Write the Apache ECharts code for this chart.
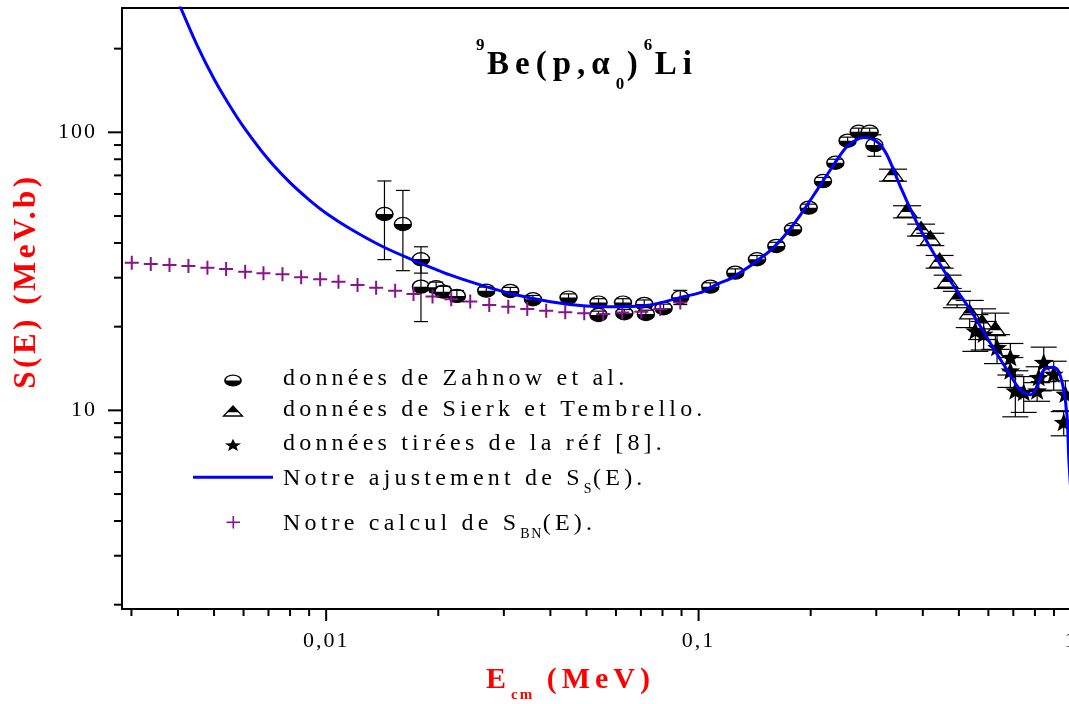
<!DOCTYPE html>
<html>
<head>
<meta charset="utf-8">
<script src="https://cdn.jsdelivr.net/npm/echarts@6/dist/echarts.min.js"></script>
<style>
  html, body { margin: 0; padding: 0; background: #fff; }
  #chart { width: 1069px; height: 704px; }
</style>
</head>
<body>
<div id="chart"></div>
<script>
// ---- data -----------------------------------------------------------------
// Zahnow et al. (E in MeV, S in MeV.b, symmetric error)
const E_ZAHNOW = [0.01434, 0.01607, 0.01797, 0.01797, 0.01974, 0.02065, 0.02244, 0.02691, 0.03121, 0.03591,
                  0.04475, 0.05387, 0.05387, 0.06266, 0.06317, 0.07146, 0.07222, 0.08054, 0.0893, 0.1075,
                  0.1255, 0.1435, 0.1617, 0.1793, 0.1975, 0.2158, 0.2329, 0.2513, 0.2691, 0.288, 0.2965];
const S_ZAHNOW = [50.85, 46.8, 34.96, 27.86, 27.72, 26.73, 25.8, 26.95, 26.88, 25.1,
                  25.44, 24.41, 22.04, 24.41, 22.35, 24.15, 22.22, 23.3, 25.52, 27.86,
                  31.28, 34.96, 39.02, 44.8, 53.58, 66.8, 77.74, 93.3, 100.5, 100.5, 90.0];
const ERR_ZAHNOW = [16, 15, 3.8, 7, 1.2, 1.2, 1.2, 0.8, 0.8, 0.8,
                    0.8, 0.8, 0.7, 0.8, 0.7, 0.8, 0.7, 0.8, 1.5, 0.9,
                    1.0, 1.1, 1.2, 1.4, 1.6, 2.0, 2.3, 2.8, 3.0, 3.0, 8];

// Sierk et Tembrello
const E_SIERK = [0.3327, 0.3629, 0.3958, 0.4191, 0.4439, 0.4665, 0.4943, 0.5345, 0.5771, 0.6264];
const S_SIERK = [70.2, 51.84, 44.55, 41.24, 34.27, 29.04, 25.1, 22.35, 20.58, 19.47];
const ERR_SIERK = [3.5, 2.6, 2.2, 2.1, 1.8, 1.6, 1.7, 2.5, 2.6, 2.9];

// réf [8]
const E_REF8 = [0.5536, 0.5827, 0.6331, 0.6874, 0.6874, 0.7088, 0.7464, 0.811, 0.819, 0.8448, 0.8985, 0.9661, 0.9559];
const S_REF8 = [19.2, 18.68, 16.73, 15.4, 13.79, 11.68, 11.53, 11.68, 13.05, 14.78, 13.42, 11.37, 9.0];
const ERR_REF8 = [2.9, 2.2, 2.0, 2.0, 1.7, 2.2, 1.7, 0.9, 1.3, 2.1, 1.6, 1.4, 0.9];

// fitted S_S(E)
const E_FIT = [0.004, 0.0045, 0.005, 0.0055, 0.006, 0.007, 0.008, 0.009, 0.01, 0.0116,
               0.0143, 0.0175, 0.0215, 0.027, 0.0325, 0.04, 0.049, 0.0604, 0.0742, 0.0911,
               0.1011, 0.112, 0.1242, 0.1527, 0.1692, 0.1876, 0.208, 0.2305, 0.2504, 0.2775,
               0.3014, 0.3206, 0.3482, 0.3861, 0.4278, 0.4743, 0.5368, 0.6075, 0.6735, 0.7313,
               0.7781, 0.8108, 0.8448, 0.8985, 0.9268, 0.9559, 0.9761, 0.9858, 1.0];
const S_FIT = [296, 206, 155.6, 125.2, 104.7, 79.8, 65.9, 57.2, 51.2, 45.0,
               38.6, 34.3, 30.7, 27.8, 26.0, 24.6, 23.8, 23.6, 23.94, 25.65,
               26.5, 28.4, 30.2, 36.74, 42.14, 50.42, 62.0, 76.3, 88.8, 95.9,
               92.5, 82.9, 63.8, 47.1, 36.7, 29.2, 22.97, 17.44, 13.98, 11.85,
               11.37, 12.18, 13.98, 14.3, 13.79, 11.85, 9.5, 6.82, 5.0];

// calculated S_BN(E)
const E_BN = [0.003006, 0.003381, 0.003796, 0.004267, 0.004799, 0.005387, 0.006061, 0.006786, 0.007633, 0.008566,
              0.009636, 0.01079, 0.01214, 0.01362, 0.01532, 0.01716, 0.0193, 0.02167, 0.02437, 0.02741,
              0.03083, 0.03467, 0.03898, 0.04385, 0.04932, 0.05546, 0.06237, 0.07017, 0.07891, 0.0893];
const S_BN = [33.99, 33.62, 33.34, 33.06, 32.6, 32.25, 31.54, 31.13, 30.87, 30.11,
              29.62, 29.04, 28.25, 27.63, 26.95, 26.23, 25.65, 25.1, 24.61, 23.94,
              23.61, 23.16, 22.84, 22.54, 22.36, 22.23, 22.47, 22.65, 23.16, 24.41];

// axes
const X_MIN = 0.00283, X_MAX = 1;
const Y_MIN = 1.93, Y_MAX = 280;
const X_MAJOR = [0.01, 0.1, 1];
const X_LABELS = ['0,01', '0,1', '1'];
const X_MINOR = [0.003, 0.004, 0.005, 0.006, 0.007, 0.008, 0.009,
                 0.02, 0.03, 0.04, 0.05, 0.06, 0.07, 0.08, 0.09,
                 0.2, 0.3, 0.4, 0.5, 0.6, 0.7, 0.8, 0.9];
const Y_MAJOR = [10, 100];
const Y_LABELS = ['10', '100'];
const Y_MINOR = [2, 3, 4, 5, 6, 7, 8, 9, 20, 30, 40, 50, 60, 70, 80, 90, 200];

// ---- text tracking (letter spacing per font size, px) ---------------------
const TRACKING = { 14: 1.5, 15: 2, 17: 2.5, 22: 2, 24: 4.2, 30: 5, 31: 3.5, 33: 6 };
(function () {
  const proto = CanvasRenderingContext2D.prototype;
  if (!('letterSpacing' in proto)) return;
  ['fillText', 'strokeText', 'measureText'].forEach(function (fn) {
    const orig = proto[fn];
    proto[fn] = function () {
      const m = /(\d+(?:\.\d+)?)px/.exec(this.font);
      const size = m ? Math.round(parseFloat(m[1])) : 12;
      const t = TRACKING[size];
      this.letterSpacing = (t != null ? t : 0) + 'px';
      return orig.apply(this, arguments);
    };
  });
})();

const FONT = "'Liberation Serif', 'Times New Roman', serif";
const PURPLE = '#86148a';
const BLUE = '#0000ff';

// ---- marker shapes ---------------------------------------------------------
function halfDisc(x, y, rx, ry) {
  return {
    type: 'group', x: x, y: y, scaleX: rx / ry,
    children: [
      { type: 'circle', shape: { cx: 0, cy: 0, r: ry }, style: { fill: '#fff', stroke: '#000', lineWidth: 1.2 } },
      { type: 'sector', shape: { cx: 0, cy: 0, r0: 0, r: ry, startAngle: 0, endAngle: Math.PI, clockwise: true }, style: { fill: '#000' } }
    ]
  };
}
function halfTriangle(x, y, w, h) {
  const top = -h * 0.6, bot = h * 0.4, split = top + h * 0.62;
  const hw = (w / 2) * (split - top) / (bot - top);
  return {
    type: 'group', x: x, y: y,
    children: [
      { type: 'polygon', shape: { points: [[0, top], [w / 2, bot], [-w / 2, bot]] }, style: { fill: '#fff', stroke: '#000', lineWidth: 1.3 } },
      { type: 'polygon', shape: { points: [[0, top], [hw, split], [-hw, split]] }, style: { fill: '#000' } }
    ]
  };
}
function star(x, y, rOut, sy) {
  const pts = [];
  for (let i = 0; i < 10; i++) {
    const a = -Math.PI / 2 + i * Math.PI / 5;
    const r = i % 2 ? rOut * 0.42 : rOut;
    pts.push([r * Math.cos(a), r * Math.sin(a)]);
  }
  return { type: 'polygon', x: x, y: y, scaleY: sy, shape: { points: pts }, style: { fill: '#000' } };
}
function errorBar(api, x, y, e, capW) {
  const c = api.coord([x, y + e]);
  const d = api.coord([x, y - e]);
  const st = { stroke: '#000', lineWidth: 1.2 };
  return [
    { type: 'line', shape: { x1: c[0], y1: c[1], x2: d[0], y2: d[1] }, style: st },
    { type: 'line', shape: { x1: c[0] - capW / 2, y1: c[1], x2: c[0] + capW / 2, y2: c[1] }, style: st },
    { type: 'line', shape: { x1: d[0] - capW / 2, y1: d[1], x2: d[0] + capW / 2, y2: d[1] }, style: st }
  ];
}

function zip3(a, b, c) { return a.map((v, i) => [v, b[i], c[i]]); }

const chart = echarts.init(document.getElementById('chart'));

function majorLabel(list, labels) {
  return function (v) {
    for (let i = 0; i < list.length; i++) {
      if (Math.abs(v / list[i] - 1) < 1e-6) return labels[i];
    }
    return '';
  };
}

const legendText = { fontSize: 24, fontFamily: FONT, fill: '#000', verticalAlign: 'middle' };

const option = {
  animation: false,
  backgroundColor: '#fff',
  grid: {
    left: 122, top: 8, right: -2, bottom: 95,
    show: true, borderColor: '#000', borderWidth: 2,
    outerBoundsMode: 'none', containLabel: false
  },
  xAxis: {
    type: 'log', logBase: 10, min: X_MIN, max: X_MAX,
    axisLine: { lineStyle: { color: '#000', width: 2 } },
    axisTick: { show: false },
    splitLine: { show: false },
    axisLabel: {
      formatter: majorLabel(X_MAJOR, X_LABELS),
      fontFamily: FONT, fontSize: 22, color: '#000', margin: 20,
      showMinLabel: false, showMaxLabel: true, hideOverlap: false
    }
  },
  yAxis: {
    type: 'log', logBase: 10, min: Y_MIN, max: Y_MAX,
    axisLine: { lineStyle: { color: '#000', width: 2 } },
    axisTick: { show: false },
    splitLine: { show: false },
    axisLabel: {
      formatter: majorLabel(Y_MAJOR, Y_LABELS),
      fontFamily: FONT, fontSize: 22, color: '#000', margin: 25,
      showMinLabel: false, showMaxLabel: false
    }
  },
  series: [
    {
      name: 'données de Zahnow et al.',
      type: 'custom',
      data: zip3(E_ZAHNOW, S_ZAHNOW, ERR_ZAHNOW),
      encode: { x: 0, y: 1 },
      renderItem: function (params, api) {
        const x = api.value(0), y = api.value(1), e = api.value(2);
        const p = api.coord([x, y]);
        return { type: 'group', children: [halfDisc(p[0], p[1], 8.5, 6.6)].concat(errorBar(api, x, y, e, 14)) };
      }
    },
    {
      name: 'données de Sierk et Tembrello.',
      type: 'custom',
      data: zip3(E_SIERK, S_SIERK, ERR_SIERK),
      encode: { x: 0, y: 1 },
      renderItem: function (params, api) {
        const x = api.value(0), y = api.value(1), e = api.value(2);
        const p = api.coord([x, y]);
        return { type: 'group', children: errorBar(api, x, y, e, 28).concat([halfTriangle(p[0], p[1], 20, 14)]) };
      }
    },
    {
      name: 'données tirées de la réf [8].',
      type: 'custom',
      data: zip3(E_REF8, S_REF8, ERR_REF8),
      encode: { x: 0, y: 1 },
      renderItem: function (params, api) {
        const x = api.value(0), y = api.value(1), e = api.value(2);
        const p = api.coord([x, y]);
        return { type: 'group', children: errorBar(api, x, y, e, 26).concat([star(p[0], p[1], 10.5, 0.95)]) };
      }
    },
    {
      name: 'Notre calcul de S_BN(E).',
      type: 'scatter',
      data: E_BN.map((v, i) => [v, S_BN[i]]),
      symbol: 'path://M0,7L14,7M7,0L7,14',
      symbolSize: 14,
      itemStyle: { color: 'transparent', borderColor: PURPLE, borderWidth: 2, opacity: 1 }
    },
    {
      name: 'Notre ajustement de S_S(E).',
      type: 'line',
      data: E_FIT.map((v, i) => [v, S_FIT[i]]),
      showSymbol: false,
      smooth: 0.3,
      clip: true,
      lineStyle: { color: BLUE, width: 3 }
    },
    {
      name: 'xTicks',
      type: 'custom',
      silent: true,
      clip: false,
      data: X_MAJOR.map(v => [v, 10, 1]).concat(X_MINOR.map(v => [v, 10, 0])),
      encode: { x: 0, y: 1 },
      renderItem: function (params, api) {
        const px = api.coord([api.value(0), 10])[0];
        const base = params.coordSys.y + params.coordSys.height;
        const len = api.value(2) ? 12 : 7;
        return { type: 'line', shape: { x1: px, y1: base, x2: px, y2: base + len }, style: { stroke: '#000', lineWidth: 2 } };
      }
    },
    {
      name: 'yTicks',
      type: 'custom',
      silent: true,
      clip: false,
      data: Y_MAJOR.map(v => [0.01, v, 1]).concat(Y_MINOR.map(v => [0.01, v, 0])),
      encode: { x: 0, y: 1 },
      renderItem: function (params, api) {
        const py = api.coord([0.01, api.value(1)])[1];
        const base = params.coordSys.x;
        const len = api.value(2) ? 14 : 8;
        return { type: 'line', shape: { x1: base, y1: py, x2: base - len, y2: py }, style: { stroke: '#000', lineWidth: 2 } };
      }
    }
  ],
  graphic: [
    // title
    {
      type: 'text', x: 476, y: 65, silent: true,
      style: {
        text: '{sup|9}{m|Be(p,α}{sub|0}{m|)}{sup|6}{m|Li}',
        verticalAlign: 'middle', align: 'left',
        rich: {
          m: { fontSize: 33, fontWeight: 'bold', fontFamily: FONT, fill: '#000', lineHeight: 59 },
          sup: { fontSize: 17, fontWeight: 'bold', fontFamily: FONT, fill: '#000', lineHeight: 31, verticalAlign: 'top' },
          sub: { fontSize: 17, fontWeight: 'bold', fontFamily: FONT, fill: '#000', lineHeight: 17, verticalAlign: 'bottom' }
        }
      }
    },
    // y axis title
    {
      type: 'text', x: 26.5, y: 281, rotation: Math.PI / 2, silent: true,
      style: {
        text: 'S(E) (MeV.b)', fontSize: 31, fontWeight: 'bold', fontFamily: FONT,
        fill: '#ff0000', align: 'center', verticalAlign: 'middle'
      }
    },
    // x axis title
    {
      type: 'text', x: 486, y: 680, silent: true,
      style: {
        text: '{m|E}{sub|cm}{m| (MeV)}',
        align: 'left', verticalAlign: 'middle',
        rich: {
          m: { fontSize: 30, fontWeight: 'bold', fontFamily: FONT, fill: '#ff0000', lineHeight: 47 },
          sub: { fontSize: 15, fontWeight: 'bold', fontFamily: FONT, fill: '#ff0000', lineHeight: 15, verticalAlign: 'bottom' }
        }
      }
    },
    // legend
    halfDisc(233, 380.5, 8, 5.4),
    halfTriangle(233, 412, 19, 10),
    star(233, 445.5, 8.5, 0.8),
    { type: 'line', shape: { x1: 193, y1: 477.3, x2: 273, y2: 477.3 }, style: { stroke: BLUE, lineWidth: 3 } },
    { type: 'line', shape: { x1: 226.5, y1: 522.3, x2: 240, y2: 522.3 }, style: { stroke: PURPLE, lineWidth: 1.6 } },
    { type: 'line', shape: { x1: 233.3, y1: 516, x2: 233.3, y2: 528.5 }, style: { stroke: PURPLE, lineWidth: 1.6 } },
    { type: 'text', x: 283, y: 378.5, style: Object.assign({ text: 'données de Zahnow et al.' }, legendText) },
    { type: 'text', x: 283, y: 409.5, style: Object.assign({ text: 'données de Sierk et Tembrello.' }, legendText) },
    { type: 'text', x: 283, y: 444.2, style: Object.assign({ text: 'données tirées de la réf [8].' }, legendText) },
    {
      type: 'text', x: 283, y: 478.5,
      style: {
        text: '{m|Notre ajustement de S}{sub|S}{m|(E).}', verticalAlign: 'middle',
        rich: {
          m: { fontSize: 24, fontFamily: FONT, fill: '#000', lineHeight: 38 },
          sub: { fontSize: 14, fontFamily: FONT, fill: '#000', lineHeight: 14, verticalAlign: 'bottom' }
        }
      }
    },
    {
      type: 'text', x: 283, y: 524.2,
      style: {
        text: '{m|Notre calcul de S}{sub|BN}{m|(E).}', verticalAlign: 'middle',
        rich: {
          m: { fontSize: 24, fontFamily: FONT, fill: '#000', lineHeight: 36 },
          sub: { fontSize: 14, fontFamily: FONT, fill: '#000', lineHeight: 14, verticalAlign: 'bottom' }
        }
      }
    }
  ]
};

chart.setOption(option);
</script>
</body>
</html>
